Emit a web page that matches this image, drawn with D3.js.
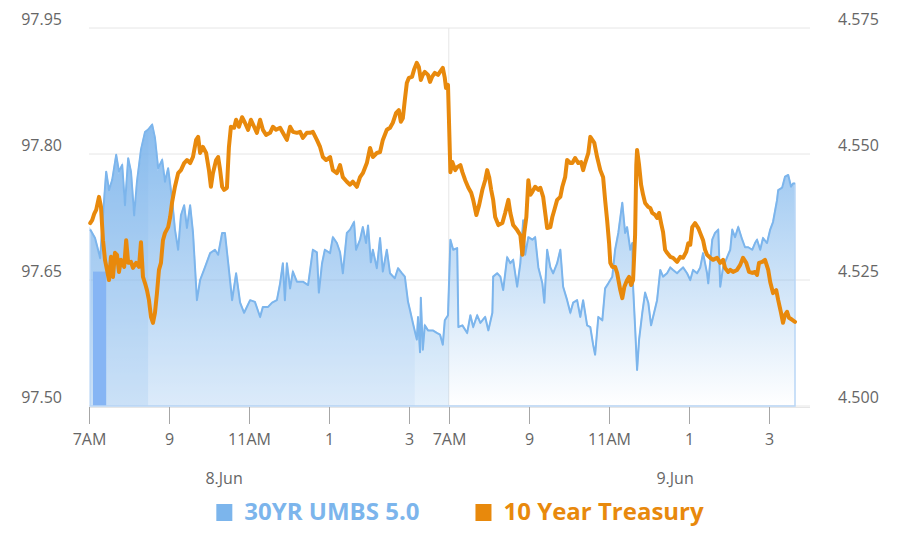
<!DOCTYPE html>
<html>
<head>
<meta charset="utf-8">
<script src="https://cdn.jsdelivr.net/npm/d3@7"></script>
<style>
  body { margin: 0; background: #fff; }
  svg { font-family: "Open Sans", sans-serif; }
</style>
</head>
<body>
<svg id="chart" width="898" height="539"></svg>
<script>
// [clock hour, price] ; each session starts at 7AM
const umbs8Jun = [[7.03,97.710],[7.15,97.700],[7.28,97.676],[7.35,97.727],[7.43,97.779],[7.50,97.757],[7.58,97.769],[7.68,97.799],[7.75,97.779],[7.83,97.787],[7.90,97.739],[7.98,97.795],[8.05,97.779],[8.13,97.727],[8.20,97.767],[8.30,97.805],[8.40,97.826],[8.48,97.829],[8.58,97.835],[8.65,97.819],[8.73,97.783],[8.83,97.793],[8.90,97.767],[8.98,97.783],[9.08,97.745],[9.15,97.710],[9.23,97.686],[9.30,97.727],[9.38,97.739],[9.45,97.712],[9.53,97.739],[9.60,97.707],[9.70,97.626],[9.78,97.650],[9.90,97.665],[10.03,97.682],[10.15,97.686],[10.23,97.680],[10.33,97.706],[10.40,97.706],[10.48,97.671],[10.58,97.626],[10.68,97.658],[10.78,97.623],[10.88,97.611],[11.03,97.626],[11.15,97.624],[11.28,97.606],[11.35,97.618],[11.48,97.618],[11.58,97.623],[11.70,97.626],[11.78,97.646],[11.85,97.670],[11.90,97.626],[11.95,97.670],[12.03,97.640],[12.10,97.660],[12.20,97.648],[12.35,97.648],[12.48,97.644],[12.60,97.686],[12.70,97.683],[12.75,97.635],[12.83,97.670],[12.90,97.686],[13.03,97.682],[13.10,97.701],[13.20,97.694],[13.28,97.683],[13.35,97.658],[13.45,97.706],[13.53,97.710],[13.63,97.719],[13.68,97.686],[13.78,97.698],[13.85,97.713],[13.93,97.694],[13.98,97.715],[14.05,97.671],[14.10,97.686],[14.20,97.664],[14.28,97.700],[14.35,97.660],[14.45,97.686],[14.53,97.658],[14.65,97.652],[14.73,97.664],[14.83,97.658],[14.90,97.654],[14.98,97.624],[15.03,97.614],[15.10,97.599],[15.20,97.579],[15.23,97.606],[15.28,97.564],[15.30,97.629],[15.35,97.567],[15.40,97.596],[15.48,97.590],[15.60,97.590],[15.70,97.587],[15.78,97.585],[15.85,97.573],[15.90,97.602],[15.98,97.608]];
const umbs9Jun = [[7.04,97.698],[7.11,97.686],[7.21,97.688],[7.24,97.594],[7.34,97.596],[7.46,97.587],[7.54,97.608],[7.61,97.594],[7.71,97.608],[7.79,97.599],[7.91,97.606],[7.99,97.590],[8.09,97.611],[8.11,97.654],[8.21,97.658],[8.29,97.654],[8.36,97.638],[8.46,97.677],[8.54,97.670],[8.61,97.674],[8.71,97.642],[8.79,97.670],[8.86,97.721],[8.91,97.680],[8.99,97.701],[9.09,97.698],[9.16,97.701],[9.24,97.665],[9.34,97.646],[9.39,97.623],[9.46,97.686],[9.54,97.665],[9.61,97.658],[9.71,97.670],[9.79,97.686],[9.86,97.642],[9.96,97.626],[10.04,97.611],[10.11,97.623],[10.21,97.626],[10.29,97.606],[10.36,97.626],[10.46,97.596],[10.54,97.594],[10.61,97.573],[10.66,97.561],[10.74,97.606],[10.84,97.602],[10.91,97.640],[10.99,97.646],[11.09,97.654],[11.16,97.686],[11.24,97.706],[11.34,97.742],[11.41,97.706],[11.46,97.713],[11.54,97.686],[11.59,97.694],[11.61,97.642],[11.66,97.594],[11.71,97.543],[11.76,97.579],[11.84,97.611],[11.91,97.635],[11.99,97.623],[12.06,97.596],[12.11,97.606],[12.21,97.626],[12.29,97.662],[12.36,97.654],[12.46,97.658],[12.54,97.665],[12.61,97.662],[12.71,97.658],[12.79,97.662],[12.86,97.665],[12.96,97.658],[13.04,97.650],[13.11,97.662],[13.21,97.658],[13.29,97.665],[13.36,97.682],[13.46,97.658],[13.49,97.646],[13.59,97.698],[13.66,97.706],[13.74,97.710],[13.79,97.642],[13.86,97.665],[13.96,97.677],[14.04,97.686],[14.09,97.710],[14.16,97.701],[14.24,97.713],[14.34,97.698],[14.41,97.689],[14.49,97.689],[14.59,97.686],[14.66,97.694],[14.71,97.698],[14.79,97.686],[14.86,97.700],[14.96,97.694],[15.04,97.710],[15.11,97.719],[15.21,97.745],[15.24,97.757],[15.34,97.760],[15.41,97.773],[15.49,97.775],[15.56,97.761],[15.61,97.765],[15.66,97.765]];
const tsy8Jun = [[7.03,4.5363],[7.08,4.5369],[7.13,4.5381],[7.18,4.5389],[7.25,4.5415],[7.30,4.5395],[7.35,4.5329],[7.40,4.5290],[7.45,4.5270],[7.50,4.5250],[7.55,4.5296],[7.60,4.5256],[7.65,4.5304],[7.70,4.5300],[7.75,4.5266],[7.80,4.5290],[7.88,4.5276],[7.93,4.5329],[7.98,4.5284],[8.05,4.5286],[8.10,4.5274],[8.18,4.5284],[8.25,4.5276],[8.30,4.5325],[8.35,4.5256],[8.40,4.5244],[8.45,4.5230],[8.50,4.5210],[8.55,4.5177],[8.60,4.5165],[8.65,4.5185],[8.70,4.5224],[8.75,4.5270],[8.80,4.5284],[8.85,4.5329],[8.90,4.5343],[8.98,4.5355],[9.03,4.5375],[9.08,4.5405],[9.15,4.5435],[9.23,4.5462],[9.30,4.5468],[9.38,4.5482],[9.45,4.5488],[9.53,4.5482],[9.60,4.5494],[9.68,4.5528],[9.73,4.5534],[9.78,4.5502],[9.85,4.5514],[9.93,4.5502],[10.00,4.5468],[10.05,4.5435],[10.10,4.5462],[10.18,4.5488],[10.23,4.5494],[10.28,4.5468],[10.33,4.5435],[10.38,4.5429],[10.45,4.5433],[10.50,4.5514],[10.55,4.5554],[10.63,4.5552],[10.68,4.5568],[10.75,4.5554],[10.83,4.5573],[10.90,4.5562],[10.98,4.5548],[11.05,4.5568],[11.13,4.5554],[11.20,4.5542],[11.28,4.5568],[11.35,4.5548],[11.43,4.5538],[11.53,4.5542],[11.60,4.5554],[11.68,4.5548],[11.78,4.5552],[11.85,4.5542],[11.95,4.5528],[12.03,4.5554],[12.10,4.5544],[12.20,4.5542],[12.28,4.5544],[12.35,4.5532],[12.45,4.5542],[12.53,4.5542],[12.60,4.5544],[12.70,4.5528],[12.78,4.5514],[12.85,4.5494],[12.93,4.5488],[13.03,4.5494],[13.10,4.5468],[13.20,4.5462],[13.28,4.5478],[13.35,4.5454],[13.45,4.5445],[13.53,4.5439],[13.60,4.5445],[13.70,4.5435],[13.78,4.5454],[13.85,4.5462],[13.95,4.5482],[14.03,4.5512],[14.10,4.5494],[14.20,4.5502],[14.28,4.5504],[14.35,4.5528],[14.45,4.5548],[14.53,4.5552],[14.60,4.5562],[14.68,4.5581],[14.75,4.5587],[14.80,4.5564],[14.85,4.5571],[14.90,4.5607],[14.95,4.5641],[15.00,4.5651],[15.08,4.5653],[15.13,4.5667],[15.20,4.5681],[15.25,4.5673],[15.30,4.5647],[15.35,4.5657],[15.40,4.5663],[15.48,4.5657],[15.53,4.5643],[15.58,4.5653],[15.65,4.5661],[15.73,4.5657],[15.78,4.5663],[15.85,4.5671],[15.90,4.5651],[15.93,4.5631],[15.98,4.5637]];
const tsy9Jun = [[7.04,4.5464],[7.09,4.5484],[7.16,4.5468],[7.21,4.5474],[7.29,4.5478],[7.34,4.5464],[7.41,4.5448],[7.49,4.5433],[7.56,4.5423],[7.61,4.5409],[7.69,4.5379],[7.76,4.5399],[7.84,4.5429],[7.91,4.5448],[7.96,4.5468],[8.01,4.5454],[8.06,4.5429],[8.11,4.5409],[8.16,4.5375],[8.24,4.5359],[8.34,4.5363],[8.41,4.5383],[8.49,4.5409],[8.54,4.5383],[8.61,4.5359],[8.71,4.5349],[8.79,4.5339],[8.84,4.5300],[8.89,4.5345],[8.94,4.5375],[8.99,4.5448],[9.04,4.5419],[9.09,4.5425],[9.16,4.5435],[9.24,4.5429],[9.29,4.5433],[9.36,4.5415],[9.46,4.5353],[9.54,4.5355],[9.59,4.5375],[9.64,4.5389],[9.71,4.5409],[9.79,4.5415],[9.84,4.5435],[9.91,4.5454],[9.96,4.5488],[10.04,4.5482],[10.09,4.5482],[10.16,4.5492],[10.24,4.5482],[10.31,4.5484],[10.36,4.5468],[10.41,4.5482],[10.49,4.5502],[10.54,4.5534],[10.59,4.5528],[10.64,4.5522],[10.71,4.5494],[10.79,4.5468],[10.86,4.5454],[10.91,4.5409],[10.96,4.5369],[11.01,4.5323],[11.04,4.5284],[11.09,4.5276],[11.16,4.5276],[11.21,4.5264],[11.29,4.5230],[11.34,4.5214],[11.39,4.5236],[11.46,4.5250],[11.51,4.5256],[11.56,4.5240],[11.61,4.5250],[11.66,4.5339],[11.69,4.5478],[11.71,4.5508],[11.76,4.5478],[11.81,4.5439],[11.86,4.5419],[11.91,4.5403],[11.99,4.5395],[12.04,4.5393],[12.09,4.5383],[12.16,4.5379],[12.21,4.5373],[12.26,4.5383],[12.31,4.5363],[12.36,4.5345],[12.41,4.5310],[12.46,4.5304],[12.54,4.5296],[12.61,4.5294],[12.71,4.5286],[12.79,4.5296],[12.86,4.5294],[12.94,4.5306],[12.99,4.5323],[13.04,4.5320],[13.09,4.5355],[13.16,4.5363],[13.24,4.5353],[13.29,4.5343],[13.36,4.5329],[13.41,4.5310],[13.46,4.5300],[13.54,4.5294],[13.61,4.5290],[13.71,4.5294],[13.79,4.5284],[13.86,4.5290],[13.91,4.5274],[13.99,4.5266],[14.04,4.5270],[14.11,4.5266],[14.21,4.5270],[14.29,4.5280],[14.36,4.5294],[14.44,4.5284],[14.51,4.5266],[14.59,4.5264],[14.66,4.5266],[14.71,4.5260],[14.76,4.5284],[14.84,4.5286],[14.91,4.5290],[14.99,4.5270],[15.04,4.5246],[15.11,4.5224],[15.19,4.5230],[15.24,4.5210],[15.31,4.5185],[15.36,4.5165],[15.41,4.5181],[15.46,4.5187],[15.51,4.5175],[15.59,4.5171],[15.66,4.5167]];

const seriesNames = ["30YR UMBS 5.0", "10 Year Treasury"];
const seriesColors = ["#7cb5ec", "#e8890c"];
const leftTicks = [97.5, 97.65, 97.8, 97.95];
const rightTicks = [4.5, 4.525, 4.55, 4.575];
const hourTicks = [7, 9, 11, 13, 15];
const hourLabels = ["7AM", "9", "11AM", "1", "3"];
const dayNames = ["8.Jun", "9.Jun"];
const dayLabelHour = [10.38, 12.66];
const sessionEnd = [16.0, 15.66];
// odd shading on the first session
const tintFrom = [7.0, 8.48, 15.15];
const tintTo = [8.48, 15.15, 16.0];
const barFrom = 7.1, barTo = 7.43, barValue = 97.66;

// ordinal-like time: sessions are glued back to back
const dayOffset = [0, sessionEnd[0] - 7];
const sess = (day, h) => dayOffset[day] + h - 7;

const svg = d3.select("#chart");
const x = d3.scaleLinear().domain([0, sess(1, sessionEnd[1])]).range([89, 795]);
const yL = d3.scaleLinear().domain([97.5, 97.95]).range([406, 28]);
const yR = d3.scaleLinear().domain([4.5, 4.575]).range([406, 28]);
const gridRight = 810;

const umbs = umbs8Jun.map(d => [sess(0, d[0]), d[1]])
  .concat(umbs9Jun.map(d => [sess(1, d[0]), d[1]]));
const tsy = tsy8Jun.map(d => [sess(0, d[0]), d[1]])
  .concat(tsy9Jun.map(d => [sess(1, d[0]), d[1]]));

// grid
svg.append("g").selectAll("line").data(leftTicks).join("line")
  .attr("x1", x(0)).attr("x2", gridRight)
  .attr("y1", d => yL(d)).attr("y2", d => yL(d))
  .attr("stroke", "#e6e6e6").attr("stroke-width", 1);
svg.append("line")
  .attr("x1", x(dayOffset[1])).attr("x2", x(dayOffset[1]))
  .attr("y1", yL(97.95)).attr("y2", yL(97.5))
  .attr("stroke", "#e6e6e6");

const defs = svg.append("defs");
const grad = defs.append("linearGradient").attr("id", "umbsFill")
  .attr("x1", 0).attr("y1", 0).attr("x2", 0).attr("y2", 1);
grad.append("stop").attr("offset", 0).attr("stop-color", seriesColors[0]).attr("stop-opacity", 0.85);
grad.append("stop").attr("offset", 1).attr("stop-color", seriesColors[0]).attr("stop-opacity", 0);

const area = d3.area().x(d => x(d[0])).y0(yL(97.5)).y1(d => yL(d[1]));
defs.append("clipPath").attr("id", "umbsClip").append("path").attr("d", area(umbs));

svg.append("path").attr("d", area(umbs)).attr("fill", "url(#umbsFill)");

// tints on day one, clipped to the area
const tint = svg.append("g").attr("clip-path", "url(#umbsClip)");
tint.selectAll("rect").data(d3.zip(tintFrom, tintTo, [0.4, 0.27, 0.18])).join("rect")
  .attr("x", d => x(sess(0, d[0])))
  .attr("width", d => x(sess(0, d[1])) - x(sess(0, d[0])))
  .attr("y", yL(97.95)).attr("height", yL(97.5) - yL(97.95))
  .attr("fill", seriesColors[0]).attr("fill-opacity", d => d[2]);
tint.append("rect")
  .attr("x", x(sess(0, barFrom))).attr("width", x(sess(0, barTo)) - x(sess(0, barFrom)))
  .attr("y", yL(barValue)).attr("height", yL(97.5) - yL(barValue))
  .attr("fill", "#86b5f4");

// area outline (sides and bottom show through)
svg.append("path").attr("d", area(umbs))
  .attr("fill", "none").attr("stroke", "#b9d6f6").attr("stroke-width", 1.5);

const lineL = d3.line().x(d => x(d[0])).y(d => yL(d[1]));
const lineR = d3.line().x(d => x(d[0])).y(d => yR(d[1]));
svg.append("path").attr("d", lineL(umbs))
  .attr("fill", "none").attr("stroke", seriesColors[0])
  .attr("stroke-width", 2).attr("stroke-linejoin", "round");
svg.append("path").attr("d", lineR(tsy))
  .attr("fill", "none").attr("stroke", seriesColors[1])
  .attr("stroke-width", 4).attr("stroke-linejoin", "round").attr("stroke-linecap", "round");

// y axis labels
svg.append("g").selectAll("text").data(leftTicks).join("text")
  .attr("x", 62).attr("y", d => yL(d) - 3)
  .attr("text-anchor", "end").attr("font-size", 16).attr("fill", "#666")
  .text(d => d3.format(".2f")(d));
svg.append("g").selectAll("text").data(rightTicks).join("text")
  .attr("x", 838).attr("y", d => yR(d) - 3)
  .attr("font-size", 16).attr("fill", "#666")
  .text(d => d3.format(".3f")(d));

// x axis
svg.append("line").attr("x1", x(0)).attr("x2", gridRight)
  .attr("y1", 407.5).attr("y2", 407.5).attr("stroke", "#e6e6e6");
const xTicks = [0, 1].flatMap(day => hourTicks.map((h, i) => ({ t: sess(day, h), label: hourLabels[i] })));
const xg = svg.append("g").selectAll("g").data(xTicks).join("g")
  .attr("transform", d => `translate(${Math.round(x(d.t)) + 0.5},0)`);
xg.append("line").attr("y1", 407).attr("y2", 424).attr("stroke", "#a6a6a6");
xg.append("text").attr("y", 445).attr("text-anchor", "middle")
  .attr("font-size", 16).attr("fill", "#666").text(d => d.label);

svg.append("g").selectAll("text").data(dayNames).join("text")
  .attr("x", (d, i) => x(sess(i, dayLabelHour[i])))
  .attr("y", 484).attr("text-anchor", "middle")
  .attr("font-size", 16).attr("fill", "#666").text(d => d);

// legend
const legend = svg.append("g");
let cursor = 0;
seriesNames.forEach((name, i) => {
  const item = legend.append("g").attr("transform", `translate(${cursor},0)`);
  item.append("rect").attr("x", 0).attr("y", -16).attr("width", 16).attr("height", 17)
    .attr("fill", seriesColors[i]);
  const t = item.append("text").attr("x", 28).attr("y", 0)
    .attr("font-size", 24).attr("font-weight", 700).attr("fill", seriesColors[i]).text(name);
  cursor += 28 + t.node().getComputedTextLength() + 56;
});
const legendWidth = cursor - 56;
legend.attr("transform", `translate(${460 - legendWidth / 2},520)`);
</script>
</body>
</html>
